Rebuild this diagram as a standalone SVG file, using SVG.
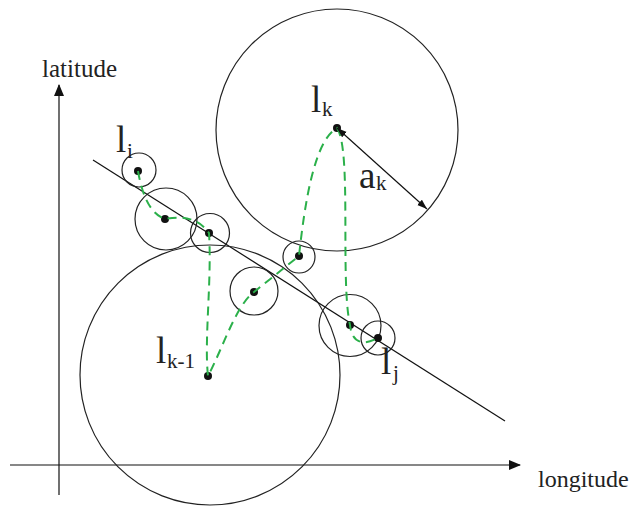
<svg xmlns="http://www.w3.org/2000/svg" width="638" height="507" viewBox="0 0 638 507">
<style>
.c{fill:none;stroke:#222;stroke-width:1.2}
.ln{fill:none;stroke:#111;stroke-width:1.2}
.g{fill:none;stroke:#2bb04a;stroke-width:2;stroke-dasharray:9,6}
.d{fill:#111}
.t{font-family:"Liberation Serif","Times New Roman",serif;fill:#222}
</style>
<defs>
<marker id="ah" markerWidth="12" markerHeight="10" refX="11" refY="5" orient="auto" markerUnits="userSpaceOnUse"><path d="M0,0 L12,5 L0,10 Z" fill="#111"/></marker>
<marker id="sh" markerWidth="10" markerHeight="8" refX="10" refY="4" orient="auto-start-reverse" markerUnits="userSpaceOnUse"><path d="M0,0.5 L10,4 L0,7.5 Z" fill="#111"/></marker>
</defs>
<g id="axes">
<line class="ln" x1="59" y1="495" x2="59" y2="85" marker-end="url(#ah)"/>
<line class="ln" x1="10" y1="465" x2="520" y2="465" marker-end="url(#ah)"/>
<text class="t" x="42" y="77" font-size="25">latitude</text>
<text class="t" x="538" y="487" font-size="24">longitude</text>
</g>
<g id="trajectory-line"><line class="ln" x1="93" y1="160" x2="505" y2="421"/></g>
<g id="node-lk">
<circle class="c" cx="337" cy="130" r="121"/>
<circle class="d" cx="337" cy="128" r="4"/>
<text class="t" x="311" y="112" font-size="37">l</text>
<text class="t" x="322" y="116" font-size="21">k</text>
</g>
<g id="node-lk1">
<circle class="c" cx="210" cy="375" r="130"/>
<circle class="d" cx="208" cy="376" r="4"/>
<text class="t" x="156" y="363" font-size="37">l</text>
<text class="t" x="167" y="368" font-size="21">k-1</text>
</g>
<g id="node-li">
<circle class="c" cx="139" cy="170" r="17"/>
<circle class="d" cx="138" cy="171" r="4"/>
<text class="t" x="116" y="152" font-size="37">l</text>
<text class="t" x="127" y="158" font-size="21">i</text>
</g>
<g id="node-2"><circle class="c" cx="166" cy="219" r="31"/><circle class="d" cx="165" cy="219" r="4"/></g>
<g id="node-3"><circle class="c" cx="210" cy="233" r="19.5"/><circle class="d" cx="209" cy="233" r="4"/></g>
<g id="node-4"><circle class="c" cx="254" cy="291" r="24"/><circle class="d" cx="254" cy="292" r="4"/></g>
<g id="node-5"><circle class="c" cx="299" cy="257" r="16"/><circle class="d" cx="299" cy="256" r="4"/></g>
<g id="node-6"><circle class="c" cx="350" cy="325.5" r="31"/><circle class="d" cx="350" cy="325" r="4"/></g>
<g id="node-lj">
<circle class="c" cx="378" cy="338" r="17"/>
<circle class="d" cx="378" cy="338" r="4"/>
<text class="t" x="381" y="374" font-size="37">l</text>
<text class="t" x="393" y="380" font-size="21">j</text>
</g>
<g id="connectors">
<path class="g" d="M138,171 Q145,212 165,219 Q195,213 209,233 C212,280 204,340 208,376 C222,350 236,305 254,292 L299,256 C305,200 315,140 337,128 C352,150 340,280 350,325 C352,345 365,345 378,338"/>
<line class="ln" x1="337" y1="128" x2="427" y2="209" marker-start="url(#sh)" marker-end="url(#sh)"/>
<text class="t" x="359" y="188" font-size="37">a</text>
<text class="t" x="376" y="190" font-size="21">k</text>
</g>
</svg>
